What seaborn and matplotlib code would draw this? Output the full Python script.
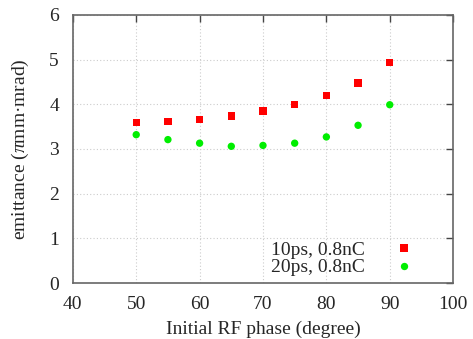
import matplotlib
matplotlib.use("Agg")
import matplotlib.pyplot as plt
import seaborn as sns
import pandas as pd

phase = [50, 55, 60, 65, 70, 75, 80, 85, 90]
emit_10ps = [3.60, 3.62, 3.66, 3.74, 3.85, 4.00, 4.19, 4.48, 4.94]
emit_20ps = [3.32, 3.21, 3.13, 3.06, 3.08, 3.13, 3.27, 3.53, 3.99]
labels = ["10ps, 0.8nC", "20ps, 0.8nC"]

sns.set_style("white")
plt.rcParams['font.family'] = ['Liberation Serif', 'DejaVu Serif']
plt.rcParams['mathtext.fontset'] = 'custom'
plt.rcParams['mathtext.rm'] = 'Liberation Serif'
plt.rcParams['mathtext.it'] = 'Liberation Serif:italic'

df = pd.DataFrame({
    "phase": phase * 2,
    "emit": emit_10ps + emit_20ps,
    "series": [labels[0]] * len(phase) + [labels[1]] * len(phase),
})

fig = plt.figure(figsize=(4.73, 3.39), dpi=100)
ax = fig.add_axes([0.154, 0.165, 0.804, 0.791])

sns.scatterplot(data=df, x="phase", y="emit", hue="series", style="series",
                palette={labels[0]: "#ff0000", labels[1]: "#00ee00"},
                markers={labels[0]: "s", labels[1]: "o"},
                s=28, edgecolor="none", linewidth=0, ax=ax)

ax.set_xlim(40, 100)
ax.set_ylim(0, 6)
ax.set_xticks([40, 50, 60, 70, 80, 90, 100])
ax.set_yticks([0, 1, 2, 3, 4, 5, 6])
ax.grid(True, linestyle=(0, (1, 2)), color="#cccccc", linewidth=0.8)
for sp in ax.spines.values():
    sp.set_color("#666666")
    sp.set_linewidth(1.2)
ax.tick_params(direction="in", top=True, right=True, length=5, width=1,
               color="#444444", labelsize=14)
ax.tick_params(axis="x", pad=9)
ax.tick_params(axis="y", pad=10)
ax.set_xlabel("Initial RF phase (degree)", fontsize=14, labelpad=6)
ax.set_ylabel("emittance ($\\it{\\pi}$mm·mrad)", fontsize=14, labelpad=13)

leg = ax.legend(loc="lower right", markerfirst=False, frameon=False,
                fontsize=14, handletextpad=1.5, borderaxespad=0.3,
                labelspacing=0.0, handlelength=1.0, markerscale=1.0,
                bbox_to_anchor=(0.932, -0.026))

fig.savefig("out.png", dpi=100)
